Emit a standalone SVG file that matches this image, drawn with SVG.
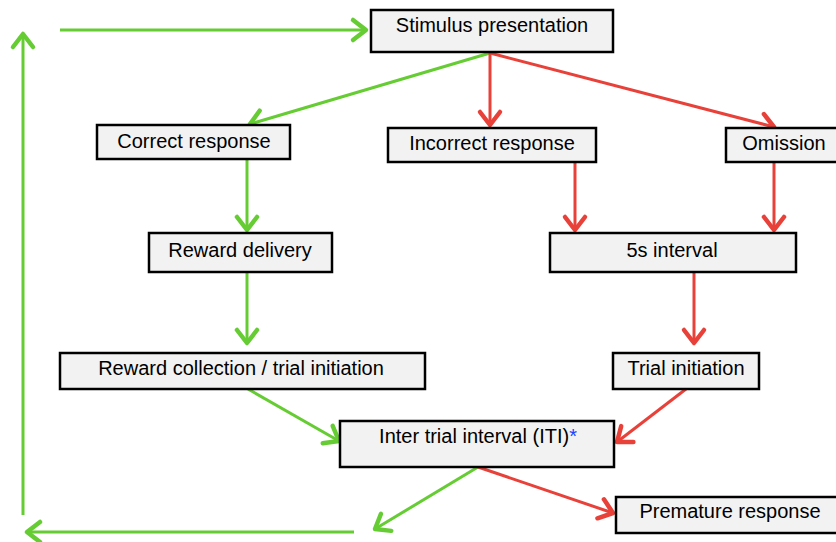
<svg xmlns="http://www.w3.org/2000/svg" width="836" height="542" viewBox="0 0 836 542">
<style>
.box{fill:#f2f2f2;stroke:#000;stroke-width:2.5}
.lbl{font-family:"Liberation Sans",Arial,sans-serif;font-size:20px;fill:#000;text-anchor:middle}
.g{stroke:#66cc33;stroke-width:3;fill:none}
.r{stroke:#e8413a;stroke-width:3;fill:none}
</style>
<defs>
<marker id="ag" markerUnits="userSpaceOnUse" markerWidth="34" markerHeight="34" viewBox="-20 -17 34 34" refX="0" refY="0" orient="auto">
<path d="M-13,-10 L0,0 L-13,10" fill="none" stroke="#66cc33" stroke-width="4.5" stroke-linecap="round" stroke-linejoin="round"/>
</marker>
<marker id="ar" markerUnits="userSpaceOnUse" markerWidth="34" markerHeight="34" viewBox="-20 -17 34 34" refX="0" refY="0" orient="auto">
<path d="M-13,-10 L0,0 L-13,10" fill="none" stroke="#e8413a" stroke-width="4.5" stroke-linecap="round" stroke-linejoin="round"/>
</marker>
</defs>
<g id="connectors">
<line class="g" x1="60" y1="30" x2="366" y2="30" marker-end="url(#ag)"/>
<line class="g" x1="23" y1="515" x2="23" y2="34" marker-end="url(#ag)"/>
<line class="g" x1="354" y1="532" x2="27" y2="532" marker-end="url(#ag)"/>
<line class="g" x1="490" y1="53" x2="250" y2="124" marker-end="url(#ag)"/>
<line class="r" x1="490" y1="53" x2="490" y2="125" marker-end="url(#ar)"/>
<line class="r" x1="490" y1="53" x2="774" y2="127" marker-end="url(#ar)"/>
<line class="g" x1="247" y1="159" x2="247" y2="230" marker-end="url(#ag)"/>
<line class="g" x1="247" y1="272" x2="247" y2="343" marker-end="url(#ag)"/>
<line class="r" x1="575" y1="162" x2="575" y2="230" marker-end="url(#ar)"/>
<line class="r" x1="774" y1="162" x2="774" y2="230" marker-end="url(#ar)"/>
<line class="r" x1="694" y1="272" x2="694" y2="343" marker-end="url(#ar)"/>
<line class="g" x1="248" y1="389" x2="339" y2="441" marker-end="url(#ag)"/>
<line class="r" x1="686" y1="389" x2="617" y2="442" marker-end="url(#ar)"/>
<line class="g" x1="478" y1="467" x2="375" y2="529" marker-end="url(#ag)"/>
<line class="r" x1="478" y1="467" x2="613" y2="513" marker-end="url(#ar)"/>
</g>
<g id="stimulus"><rect class="box" x="371" y="10" width="242" height="42"/><text class="lbl" x="492" y="32">Stimulus presentation</text></g>
<g id="correct"><rect class="box" x="97" y="125" width="193" height="34"/><text class="lbl" x="194" y="148">Correct response</text></g>
<g id="incorrect"><rect class="box" x="388" y="128" width="208" height="34"/><text class="lbl" x="492" y="150">Incorrect response</text></g>
<g id="omission"><rect class="box" x="726" y="128" width="120" height="34"/><text class="lbl" x="784" y="150">Omission</text></g>
<g id="reward-delivery"><rect class="box" x="149" y="233" width="183" height="39"/><text class="lbl" x="240" y="257">Reward delivery</text></g>
<g id="interval5s"><rect class="box" x="550" y="233" width="246" height="39"/><text class="lbl" x="672" y="257">5s interval</text></g>
<g id="reward-collection"><rect class="box" x="60" y="353" width="365" height="36"/><text class="lbl" x="241" y="375">Reward collection / trial initiation</text></g>
<g id="trial-initiation"><rect class="box" x="613" y="353" width="146" height="36"/><text class="lbl" x="686" y="375">Trial initiation</text></g>
<g id="iti"><rect class="box" x="340" y="421" width="274" height="46"/><text class="lbl" x="478" y="443">Inter trial interval (ITI)<tspan fill="#2040ff">*</tspan></text></g>
<g id="premature"><rect class="box" x="616" y="497" width="230" height="36"/><text class="lbl" x="730" y="518">Premature response</text></g>
</svg>
